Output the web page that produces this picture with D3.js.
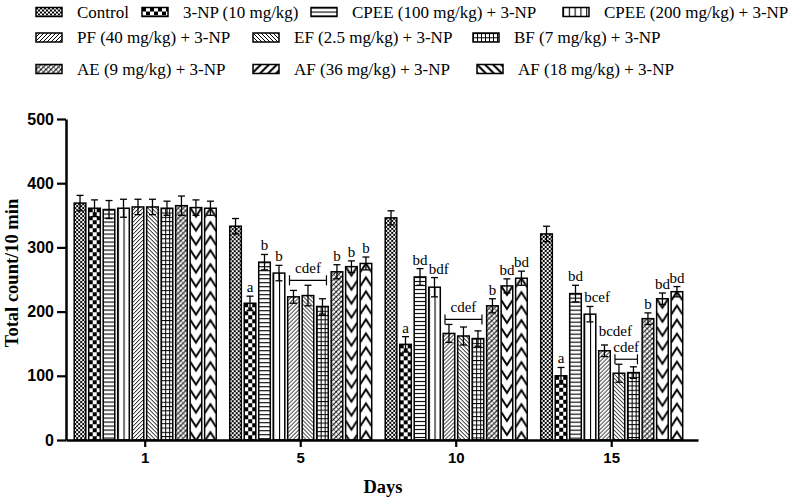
<!DOCTYPE html>
<html><head><meta charset="utf-8">
<script src="https://cdnjs.cloudflare.com/ajax/libs/d3/7.8.5/d3.min.js"></script>
<style>body{margin:0;background:#fff} svg{display:block}</style>
</head><body><svg id="c" width="800" height="501"></svg>
<script>
// ---------- DATA ----------
const days = ["1", "5", "10", "15"];
const seriesKeys = ["control","np","cpee100","cpee200","pf","ef","bf","ae","af36","af18"];
const seriesNames = [
  "Control", "3-NP (10 mg/kg)", "CPEE (100 mg/kg) + 3-NP", "CPEE (200 mg/kg) + 3-NP",
  "PF (40 mg/kg) + 3-NP", "EF (2.5 mg/kg) + 3-NP", "BF (7 mg/kg) + 3-NP",
  "AE (9 mg/kg) + 3-NP", "AF (36 mg/kg) + 3-NP", "AF (18 mg/kg) + 3-NP"
];
const controlMean = [369, 333, 346, 321];
const npMean      = [361, 213, 149, 100];
const cpee100Mean = [359, 277, 254, 228];
const cpee200Mean = [361, 260, 238, 196];
const pfMean      = [363, 223, 166, 139];
const efMean      = [363, 225, 162, 104];
const bfMean      = [361, 208, 158, 105];
const aeMean      = [365, 262, 209, 189];
const af36Mean    = [362, 270, 240, 220];
const af18Mean    = [361, 275, 252, 231];

const controlSem = [12, 12, 11, 12];
const npSem      = [13, 11, 12, 13];
const cpee100Sem = [14, 12, 13, 13];
const cpee200Sem = [14, 12, 15, 12];
const pfSem      = [12, 10, 14, 9];
const efSem      = [12, 16, 14, 14];
const bfSem      = [11, 12, 12, 9];
const aeSem      = [15, 11, 11, 9];
const af36Sem    = [12, 9, 11, 9];
const af18Sem    = [11, 10, 11, 8];

const controlSig = ["", "", "", ""];
const npSig      = ["", "a", "a", "a"];
const cpee100Sig = ["", "b", "bd", "bd"];
const cpee200Sig = ["", "b", "bdf", "bcef"];
const pfSig      = ["", "", "", "bcdef"];
const efSig      = ["", "", "", ""];
const bfSig      = ["", "", "", ""];
const aeSig      = ["", "b", "b", "b"];
const af36Sig    = ["", "b", "bd", "bd"];
const af18Sig    = ["", "b", "bd", "bd"];

const bracketDays  = ["5", "10", "15"];
const bracketFrom  = ["pf", "pf", "ef"];
const bracketTo    = ["bf", "bf", "bf"];
const bracketText  = ["cdef", "cdef", "cdef"];

const yTickValues = [0, 100, 200, 300, 400, 500];
const xTitle = "Days";
const yTitle = "Total count/10 min";

const means = [controlMean,npMean,cpee100Mean,cpee200Mean,pfMean,efMean,bfMean,aeMean,af36Mean,af18Mean];
const sems  = [controlSem,npSem,cpee100Sem,cpee200Sem,pfSem,efSem,bfSem,aeSem,af36Sem,af18Sem];
const sigs  = [controlSig,npSig,cpee100Sig,cpee200Sig,pfSig,efSig,bfSig,aeSig,af36Sig,af18Sig];

const table = [];
days.forEach((d, di) => seriesKeys.forEach((k, si) => {
  table.push({day: d, key: k, mean: means[si][di], sem: sems[si][di], sig: sigs[si][di]});
}));

// ---------- LAYOUT ----------
const svg = d3.select("#c");
const x = d3.scaleBand().domain(days).range([66, 698]).paddingInner(0.0868).paddingOuter(0.0756).align(0.35);
const xi = d3.scaleBand().domain(seriesKeys).range([0, x.bandwidth()]).paddingInner(0.2).paddingOuter(0);
const y = d3.scaleLinear().domain([0, 500]).range([440, 119]);
const bw = xi.bandwidth();
const serif = "'Liberation Serif','Times New Roman',serif";
const sans = "'Liberation Sans',Arial,sans-serif";

// ---------- PATTERNS ----------
const defs = svg.append("defs");
function pat(id, w, h) {
  const p = defs.append("pattern").attr("id", id).attr("patternUnits", "userSpaceOnUse")
    .attr("width", w).attr("height", h);
  p.append("rect").attr("width", w).attr("height", h).attr("fill", "#fff");
  return p;
}
function sq(p, x0, y0, w, h) { p.append("rect").attr("x",x0).attr("y",y0).attr("width",w).attr("height",h).attr("fill","#000"); }
function ln(p, d, sw) { p.append("path").attr("d", d).attr("stroke","#000").attr("stroke-width", sw).attr("fill","none"); }
let p;
p = pat("p-control", 4, 4); sq(p,0,0,2,2); sq(p,2,2,2,2);
p = pat("p-np", 8, 8); sq(p,0,0,4,4); sq(p,4,4,4,4);
p = pat("p-cpee100", 10, 4); sq(p,0,0,10,1.1);
p = pat("p-cpee200", bw/2, 10); sq(p,0,0,1.1,10);
p = pat("p-pf", 4, 4); ln(p, "M0,4L4,0M-1,1L1,-1M3,5L5,3", 1);
p = pat("p-ef", 4, 4); ln(p, "M0,0L4,4M-1,3L1,5M3,-1L5,1", 1);
p = pat("p-bf", 4, 4.3); sq(p,0,0,4,1); sq(p,0,0,1,4.3);
p = pat("p-ae", 5, 5); ln(p, "M0,5L5,0M-1,1L1,-1M4,6L6,4", 1.1); ln(p, "M0,0L5,5M-1,4L1,6M4,-1L6,1", 0.6);
const ch = 14, cd = 9;
p = pat("p-af36", bw, ch); ln(p, [-ch,0,ch].map(o => `M0,${o}L${bw/2},${o+cd}L${bw},${o}`).join(""), 2);
p = pat("p-af18", bw, ch); ln(p, [-ch,0,ch].map(o => `M0,${o+cd}L${bw/2},${o}L${bw},${o+cd}`).join(""), 2);
p = pat("p-af36L", 8, 8); ln(p, "M0,8L8,0M-2,2L2,-2M6,10L10,6", 2);
p = pat("p-af18L", 8, 8); ln(p, "M0,0L8,8M-2,6L2,10M6,-2L10,2", 2);

// ---------- BARS ----------
const barG = svg.append("g").selectAll("g.bar").data(table).join("g").attr("class","bar")
  .attr("transform", d => `translate(${x(d.day) + xi(d.key)},${y(d.mean)})`);
barG.append("rect").attr("x",0).attr("y",0).attr("width",bw)
  .attr("height", d => y(0) - y(d.mean))
  .attr("fill", d => `url(#p-${d.key})`).attr("stroke","#000").attr("stroke-width",1.5);

// error bars
const eb = svg.append("g").attr("stroke","#000").attr("stroke-width",1.3);
table.forEach(d => {
  const cx = x(d.day) + xi(d.key) + bw/2;
  const yt = y(d.mean + d.sem), yb = y(d.mean - d.sem);
  eb.append("line").attr("x1",cx).attr("x2",cx).attr("y1",yt).attr("y2",yb);
  eb.append("line").attr("x1",cx-3.5).attr("x2",cx+3.5).attr("y1",yt).attr("y2",yt);
  eb.append("line").attr("x1",cx-3.5).attr("x2",cx+3.5).attr("y1",yb).attr("y2",yb);
});

// brackets
const bracketLabels = [];
bracketDays.forEach((day, i) => {
  const i0 = seriesKeys.indexOf(bracketFrom[i]), i1 = seriesKeys.indexOf(bracketTo[i]);
  const sub = table.filter(d => d.day === day && seriesKeys.indexOf(d.key) >= i0 && seriesKeys.indexOf(d.key) <= i1);
  const by = d3.min(sub, d => y(d.mean + d.sem)) - 5;
  const x1 = x(day) + xi(bracketFrom[i]) + bw/2 - 4;
  const x2 = x(day) + xi(bracketTo[i]) + bw/2 + 4;
  const g = svg.append("g").attr("stroke","#000").attr("stroke-width",1.2);
  g.append("line").attr("x1",x1).attr("x2",x2).attr("y1",by).attr("y2",by);
  g.append("line").attr("x1",x1).attr("x2",x1).attr("y1",by-5).attr("y2",by+5);
  g.append("line").attr("x1",x2).attr("x2",x2).attr("y1",by-5).attr("y2",by+5);
  const t = svg.append("text").attr("x",(x1+x2)/2).attr("y",by-7).attr("text-anchor","middle")
    .attr("font-family",serif).attr("font-size",15).text(bracketText[i]);
  bracketLabels.push(t.node().getBBox());
});

// significance letters (nudged up if they collide with a bracket label)
svg.append("g").selectAll("text").data(table.filter(d => d.sig))
  .join("text")
  .attr("x", d => d.sig.length > 2 ? x(d.day) + xi(d.key) : x(d.day) + xi(d.key) + bw/2)
  .attr("y", d => y(d.mean + d.sem) - 4)
  .attr("text-anchor", d => d.sig.length > 2 ? "start" : "middle")
  .attr("font-family",serif).attr("font-size",15)
  .text(d => d.sig)
  .each(function() {
    const b = this.getBBox();
    bracketLabels.forEach(o => {
      const hx = b.x < o.x + o.width && o.x < b.x + b.width;
      const overlap = (b.y + b.height) - o.y;
      if (hx && overlap > 0 && b.y < o.y + o.height) {
        this.setAttribute("y", +this.getAttribute("y") - overlap - 0.5);
      }
    });
  });

// ---------- AXES ----------
const yAxis = svg.append("g").attr("transform","translate(66,0)")
  .call(d3.axisLeft(y).tickValues(yTickValues).tickSize(9).tickSizeOuter(0).tickPadding(3));
yAxis.select(".domain").attr("stroke-width",2.5);
yAxis.selectAll(".tick line").attr("stroke-width",2.2);
yAxis.selectAll("text").attr("font-family",sans)
  .attr("font-weight","bold").attr("font-size",16).attr("fill","#000");

const xAxis = svg.append("g").attr("transform","translate(0,440)")
  .call(d3.axisBottom(x).tickSize(7).tickSizeOuter(0).tickPadding(5));
xAxis.select(".domain").attr("stroke-width",2.5);
xAxis.selectAll(".tick line").attr("stroke-width",2.2);
xAxis.selectAll("text").attr("font-family",sans)
  .attr("font-weight","bold").attr("font-size",15).attr("fill","#000");

svg.append("text").attr("x",383).attr("y",493).attr("text-anchor","middle")
  .attr("font-family",serif).attr("font-weight","bold")
  .attr("font-size",18.5).text(xTitle);
svg.append("text").attr("transform","translate(18,273) rotate(-90)").attr("text-anchor","middle")
  .attr("font-family",serif).attr("font-weight","bold")
  .attr("font-size",18.5).text(yTitle);

// ---------- LEGEND ----------
const legSwatchX = [36, 142, 311, 563, 36, 253, 473, 36, 253, 477];
const legRowY = [12, 12, 12, 12, 37.5, 37.5, 37.5, 69, 69, 69];
const legPat = {af36: "p-af36L", af18: "p-af18L"};
const leg = svg.append("g");
seriesKeys.forEach((k, i) => {
  const g = leg.append("g").attr("transform", `translate(${legSwatchX[i]},${legRowY[i] - 4.5})`);
  g.append("rect").attr("width",26).attr("height",9)
    .attr("fill", `url(#${legPat[k] || "p-" + k})`).attr("stroke","#000").attr("stroke-width",1.5);
  leg.append("text").attr("x", legSwatchX[i] + 41).attr("y", legRowY[i]).attr("dy","0.35em")
    .attr("font-family",serif).attr("font-size",17)
    .text(seriesNames[i]);
});
</script></body></html>
